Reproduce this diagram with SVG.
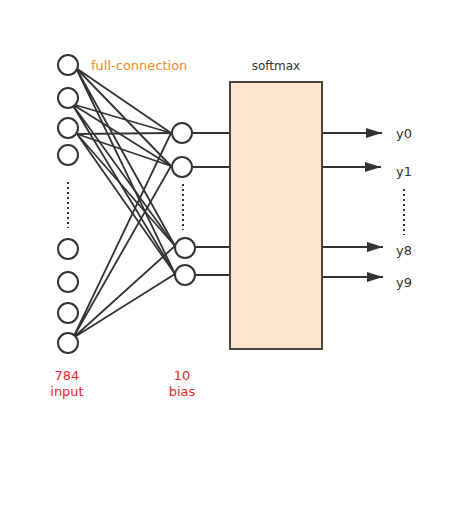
<svg xmlns="http://www.w3.org/2000/svg" width="458" height="526" viewBox="0 0 458 526">
<style>
.n{fill:#fff;stroke:#333;stroke-width:2}
.e{stroke:#333;stroke-width:1.8;fill:none}
.d{stroke:#333;stroke-width:2;stroke-dasharray:2 3;fill:none}
.t{font-family:"DejaVu Sans",sans-serif;fill:#333}
.r{font-family:"DejaVu Sans",sans-serif;fill:#e8262b;font-size:13px;text-anchor:middle}
</style>
<defs>
<marker id="ah" markerWidth="16" markerHeight="10" refX="16" refY="5" orient="auto" markerUnits="userSpaceOnUse">
<path d="M0,0 L16,5 L0,10 Z" fill="#333"/>
</marker>
</defs>
<rect width="458" height="526" fill="#fff"/>
<g id="connectors">
<path class="e" d="M76,68 L171,133 M76,68 L171,166 M76,68 L175,246 M76,68 L175,274"/>
<path class="e" d="M72,104 L171,133 M72,104 L171,166 M72,104 L175,246 M72,104 L175,274"/>
<path class="e" d="M77,134 L171,133 M77,134 L171,166 M77,134 L175,246 M77,134 L175,274"/>
<path class="e" d="M73,338 L171,133 M73,338 L171,166 M73,338 L175,246 M73,338 L175,274"/>
<path class="e" d="M193,133 L230,133 M193,167 L230,167 M196,247 L230,247 M196,275 L230,275"/>
<path class="e" d="M322,133 L382,133" marker-end="url(#ah)"/>
<path class="e" d="M322,167 L381,167" marker-end="url(#ah)"/>
<path class="e" d="M322,247 L383,247" marker-end="url(#ah)"/>
<path class="e" d="M322,277 L383,277" marker-end="url(#ah)"/>
</g>
<g id="dots">
<path class="d" d="M68,182 L68,228"/>
<path class="d" d="M183,184 L183,230"/>
<path class="d" d="M404,189 L404,235"/>
</g>
<g id="inputs">
<circle class="n" cx="68" cy="65" r="10"/>
<circle class="n" cx="68" cy="98" r="10"/>
<circle class="n" cx="68" cy="128" r="10"/>
<circle class="n" cx="68" cy="155" r="10"/>
<circle class="n" cx="68" cy="249" r="10"/>
<circle class="n" cx="68" cy="282" r="10"/>
<circle class="n" cx="68" cy="313" r="10"/>
<circle class="n" cx="68" cy="343" r="10"/>
</g>
<g id="hidden">
<circle class="n" cx="182" cy="133" r="10"/>
<circle class="n" cx="182" cy="167" r="10"/>
<circle class="n" cx="185" cy="248" r="10"/>
<circle class="n" cx="185" cy="275" r="10"/>
</g>
<g id="softmax">
<rect x="230" y="82" width="92" height="267" fill="#ffe6cc" stroke="#333" stroke-width="1.8"/>
<text class="t" x="276" y="70" font-size="12" text-anchor="middle">softmax</text>
</g>
<g id="labels">
<text class="t" x="91" y="70" font-size="13" style="fill:#ef8a1d">full-connection</text>
<text class="r" x="67" y="380">784</text>
<text class="r" x="67" y="396">input</text>
<text class="r" x="182" y="380">10</text>
<text class="r" x="182" y="396">bias</text>
<text class="t" x="396" y="138" font-size="13">y0</text>
<text class="t" x="396" y="176" font-size="13">y1</text>
<text class="t" x="396" y="255" font-size="13">y8</text>
<text class="t" x="396" y="287" font-size="13">y9</text>
</g>
</svg>
